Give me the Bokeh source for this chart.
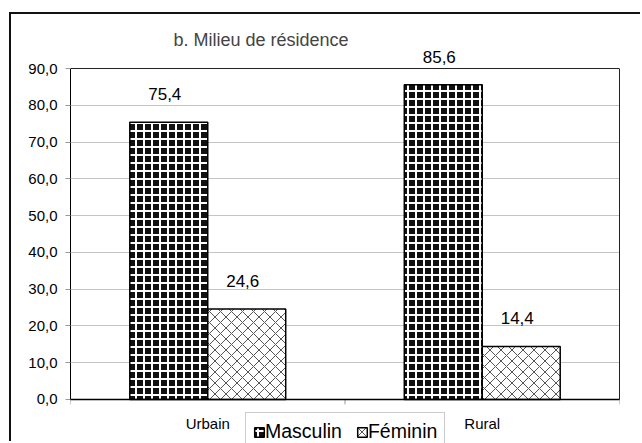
import math
from bokeh.plotting import figure
from bokeh.models import (ColumnDataSource, FixedTicker, Range1d, Legend,
                          LegendItem, LabelSet, LinearAxis, Grid)
from bokeh.transform import dodge
from bokeh.core.properties import value
from bokeh.embed import file_html
from bokeh.resources import INLINE

# ---------------- data ----------------
title_text = "b. Milieu de résidence"
categories = ["Urbain", "Rural"]
series_names = ["Masculin", "Féminin"]
masculin = [75.4, 85.6]
feminin = [24.6, 14.4]
y_ticks = [0, 10, 20, 30, 40, 50, 60, 70, 80, 90]
y_tick_labels = ["0,0", "10,0", "20,0", "30,0", "40,0",
                 "50,0", "60,0", "70,0", "80,0", "90,0"]


def fr(v):
    return f"{v:.1f}".replace(".", ",")


FONT = "Liberation Sans"
BAR_W = 0.284
Y_MIN, Y_MAX = y_ticks[0], y_ticks[-1]

n = len(categories)
x_center = [i + 0.5 for i in range(n)]
x_bounds = list(range(n + 1))
src = ColumnDataSource(dict(
    x=x_center, cat=categories, m=masculin, f=feminin,
    m_lbl=[fr(v) for v in masculin], f_lbl=[fr(v) for v in feminin],
    zero=[Y_MIN] * n,
))
bsrc = ColumnDataSource(dict(x=x_bounds, zero=[Y_MIN] * (n + 1)))

# the frame is extended below 0 and above 90 so that the legend and the
# value labels fit inside it; axis lines are redrawn at 0 and 90
p = figure(width=631, height=429,
           x_range=Range1d(0, n), y_range=Range1d(-12, 96),
           x_axis_location=None,
           output_backend="svg", toolbar_location=None,
           min_border_left=59, min_border_top=32,
           min_border_right=23, min_border_bottom=0)
# outer chart-area border (left / top visible in the reference)
p.margin = (12, 0, 0, 9)
p.styles = {"border-left": "2px solid #111111",
            "border-top": "2px solid #111111"}
p.background_fill_color = "white"
p.border_fill_color = "white"
p.outline_line_color = None

# title
p.title.text = title_text
p.title.text_font = FONT
p.title.text_font_size = "18px"
p.title.text_font_style = "normal"
p.title.align = "left"
p.title.offset = 103
p.title.standoff = -6

# y axis
ya = p.yaxis[0]
ya.bounds = (Y_MIN, Y_MAX)
ya.ticker = FixedTicker(ticks=y_ticks, minor_ticks=[])
ya.major_label_overrides = {t: l for t, l in zip(y_ticks, y_tick_labels)}
ya.major_tick_out = 5
ya.major_tick_in = 0
ya.major_tick_line_color = "#999999"
ya.minor_tick_out = 0
ya.minor_tick_in = 0
ya.axis_line_color = "black"
ya.axis_line_width = 1
ya.major_label_standoff = 8
ya.major_label_text_font = FONT
ya.major_label_text_font_size = "15px"
ya.major_label_text_color = "black"

# right border of the plot area
ra = LinearAxis(bounds=(Y_MIN, Y_MAX), ticker=FixedTicker(ticks=[], minor_ticks=[]),
                major_tick_out=0, major_tick_in=0, minor_tick_out=0,
                minor_tick_in=0, axis_line_color="#222222", axis_line_width=1)
p.add_layout(ra, "right")

p.xgrid.visible = False
p.ygrid.ticker = FixedTicker(ticks=y_ticks[1:-1], minor_ticks=[])
p.ygrid.grid_line_color = "#c4c4c4"
p.ygrid.grid_line_width = 1

# top border line (at 90)
p.add_layout(Grid(dimension=1, ticker=FixedTicker(ticks=[Y_MAX], minor_ticks=[]),
                  grid_line_color="#222222", grid_line_width=1))

# bars
rm = p.vbar(x=dodge("x", -BAR_W / 2), top="m", width=BAR_W, source=src,
            fill_color="#111111", hatch_pattern="cross", hatch_color="white",
            hatch_scale=8, hatch_weight=2,
            line_color="black", line_width=1.5)
rf = p.vbar(x=dodge("x", BAR_W / 2), top="f", width=BAR_W, source=src,
            fill_color="white", hatch_pattern="diagonal_cross",
            hatch_color="#555555", hatch_scale=11, hatch_weight=1,
            line_color="black", line_width=1.5)

# x-axis line (at 0)
p.add_layout(Grid(dimension=1, ticker=FixedTicker(ticks=[Y_MIN], minor_ticks=[]),
                  grid_line_color="black", grid_line_width=1.5,
                  level="overlay"))

# category separator ticks under the x-axis line
p.ray(x="x", y="zero", source=bsrc, length=5, angle=-math.pi / 2,
      length_units="screen", line_color="#999999", line_width=1)

# category labels
p.text(x="x", y="zero", text="cat", source=src, y_offset=24,
       text_align="center", text_baseline="middle",
       text_font=value(FONT), text_font_size="15px", text_color="black")

# value labels
for col, lbl, off in (("m", "m_lbl", -BAR_W / 2), ("f", "f_lbl", BAR_W / 2)):
    p.add_layout(LabelSet(x=dodge("x", off), y=col, text=lbl, source=src,
                          text_align="center", text_baseline="middle",
                          x_offset=-4, y_offset=28,
                          text_font=value(FONT), text_font_size="17px",
                          text_color="black"))

# legend
legend = Legend(items=[LegendItem(label=series_names[0], renderers=[rm]),
                       LegendItem(label=series_names[1], renderers=[rf])],
                orientation="horizontal", location=(175, -8))
legend.margin = 0
legend.padding = 7
legend.spacing = 14
legend.label_standoff = 0
legend.glyph_width = 12
legend.glyph_height = 12
legend.label_text_font = FONT
legend.label_text_font_size = "19.5px"
legend.label_text_color = "black"
legend.border_line_color = "#999999"
legend.border_line_width = 1
legend.background_fill_color = "white"
legend.background_fill_alpha = 1
p.add_layout(legend)

open("out.html", "w").write(file_html(p, INLINE))
